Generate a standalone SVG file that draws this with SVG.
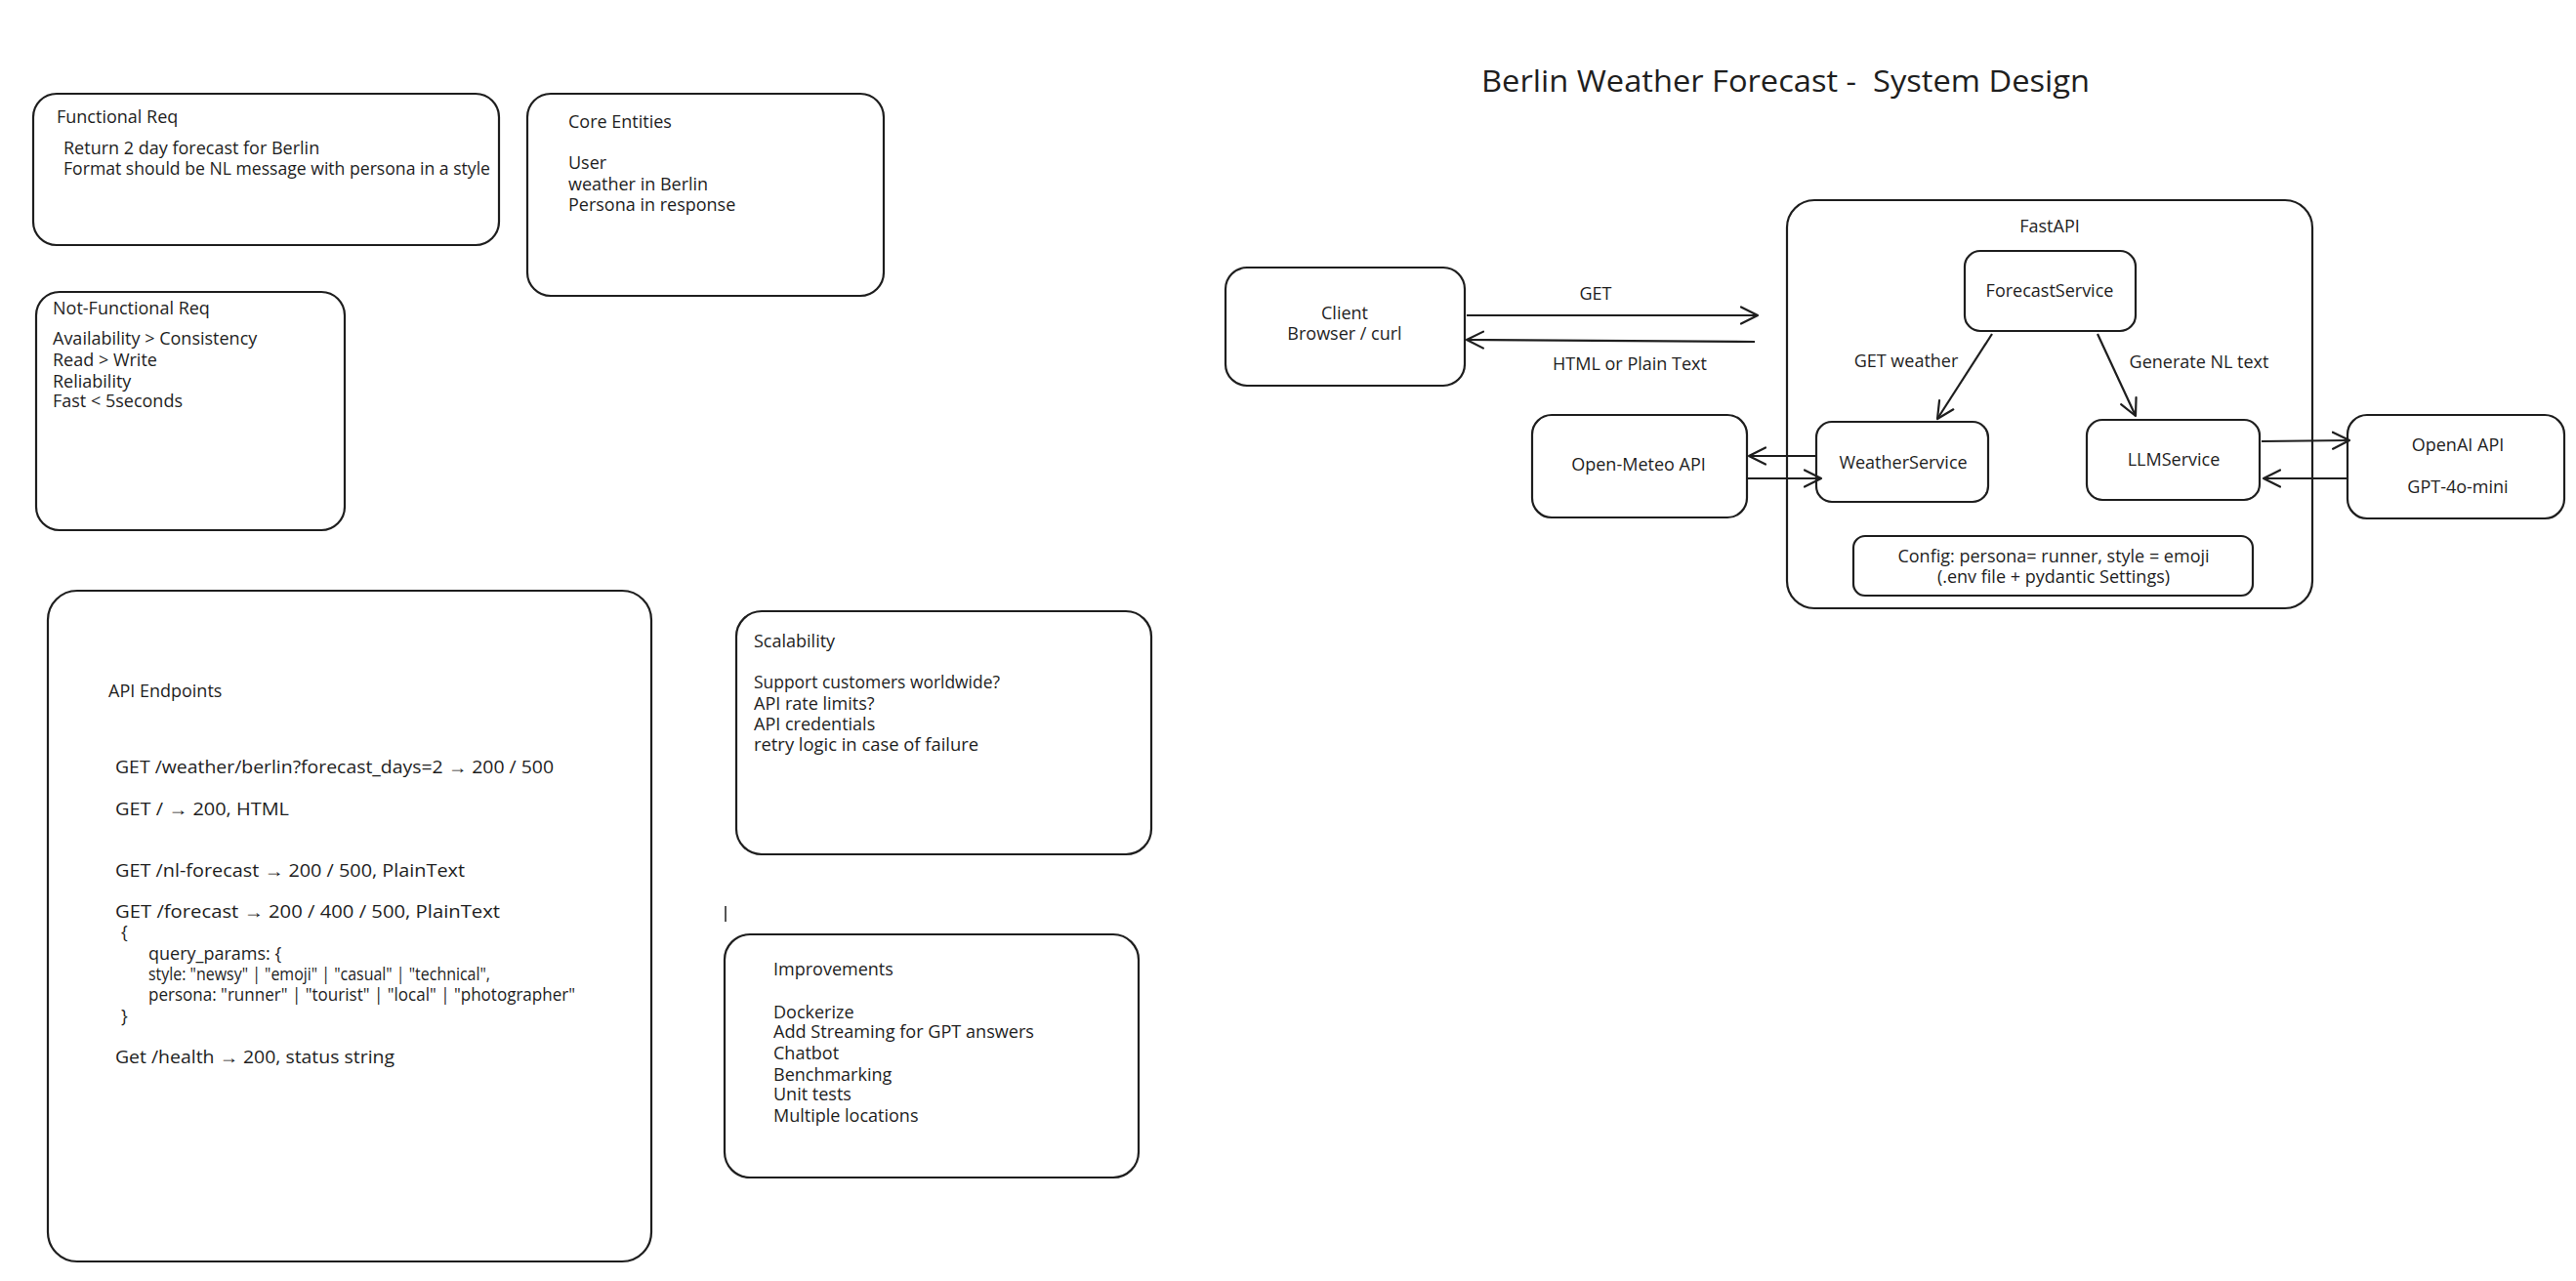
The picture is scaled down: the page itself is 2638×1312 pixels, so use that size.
<svg xmlns="http://www.w3.org/2000/svg" width="2638" height="1312" viewBox="0 0 2638 1312">
<defs>
<style>
.box{fill:#ffffff;stroke:#1e1e1e;stroke-width:2.2}
.t{font-family:"Open Sans","Liberation Sans",sans-serif;font-size:18px;fill:#1e1e1e}
.c{text-anchor:middle}
.title{font-family:"Open Sans","Liberation Sans",sans-serif;font-size:31px;fill:#1e1e1e}
.conn{fill:none;stroke:#1e1e1e;stroke-width:2.2;marker-end:url(#arr)}
</style>
<marker id="arr" markerUnits="userSpaceOnUse" markerWidth="22" markerHeight="22" refX="18" refY="10" orient="auto">
<path d="M1,1.5 L18,10 L1,18.5" fill="none" stroke="#1e1e1e" stroke-width="2.2" stroke-linecap="round" stroke-linejoin="round"/>
</marker>
</defs>
<rect width="2638" height="1312" fill="#ffffff"/>

<g id="functional-req">
<rect class="box" x="34" y="96" width="477" height="155" rx="24"/>
<text class="t" x="58" y="126">Functional Req</text>
<text class="t" x="65" y="158">Return 2 day forecast for Berlin</text>
<text class="t" x="65" y="179" textLength="437" lengthAdjust="spacingAndGlyphs">Format should be NL message with persona in a style</text>
</g>

<g id="core-entities">
<rect class="box" x="540" y="96" width="365" height="207" rx="24"/>
<text class="t" x="582" y="131">Core Entities</text>
<text class="t" x="582" y="173">User</text>
<text class="t" x="582" y="195">weather in Berlin</text>
<text class="t" x="582" y="216">Persona in response</text>
</g>

<g id="non-functional-req">
<rect class="box" x="37" y="299" width="316" height="244" rx="24"/>
<text class="t" x="54" y="322">Not-Functional Req</text>
<text class="t" x="54" y="353">Availability &gt; Consistency</text>
<text class="t" x="54" y="375">Read &gt; Write</text>
<text class="t" x="54" y="397">Reliability</text>
<text class="t" x="54" y="417">Fast &lt; 5seconds</text>
</g>

<g id="api-endpoints">
<rect class="box" x="49" y="605" width="618" height="687" rx="30"/>
<text class="t" x="111" y="714">API Endpoints</text>
<text class="t" x="118" y="792" textLength="449" lengthAdjust="spacingAndGlyphs">GET /weather/berlin?forecast_days=2 → 200 / 500</text>
<text class="t" x="118" y="835" textLength="178" lengthAdjust="spacingAndGlyphs">GET / → 200, HTML</text>
<text class="t" x="118" y="898" textLength="358" lengthAdjust="spacingAndGlyphs">GET /nl-forecast → 200 / 500, PlainText</text>
<text class="t" x="118" y="940" textLength="394" lengthAdjust="spacingAndGlyphs">GET /forecast → 200 / 400 / 500, PlainText</text>
<text class="t" x="124" y="961">{</text>
<text class="t" x="152" y="983">query_params: {</text>
<text class="t" x="152" y="1004" textLength="350" lengthAdjust="spacingAndGlyphs">style: "newsy" | "emoji" | "casual" | "technical",</text>
<text class="t" x="152" y="1025" textLength="437" lengthAdjust="spacingAndGlyphs">persona: "runner" | "tourist" | "local" | "photographer"</text>
<text class="t" x="124" y="1047">}</text>
<text class="t" x="118" y="1089" textLength="286" lengthAdjust="spacingAndGlyphs">Get /health → 200, status string</text>
</g>

<g id="scalability">
<rect class="box" x="754" y="626" width="425" height="249" rx="26"/>
<text class="t" x="772" y="663">Scalability</text>
<text class="t" x="772" y="705" textLength="252" lengthAdjust="spacingAndGlyphs">Support customers worldwide?</text>
<text class="t" x="772" y="727">API rate limits?</text>
<text class="t" x="772" y="748">API credentials</text>
<text class="t" x="772" y="769" textLength="230" lengthAdjust="spacingAndGlyphs">retry logic in case of failure</text>
</g>

<line x1="743" y1="928" x2="743" y2="944" stroke="#1e1e1e" stroke-width="1.5"/>

<g id="improvements">
<rect class="box" x="742" y="957" width="424" height="249" rx="26"/>
<text class="t" x="792" y="999">Improvements</text>
<text class="t" x="792" y="1043">Dockerize</text>
<text class="t" x="792" y="1063" textLength="267" lengthAdjust="spacingAndGlyphs">Add Streaming for GPT answers</text>
<text class="t" x="792" y="1085">Chatbot</text>
<text class="t" x="792" y="1107">Benchmarking</text>
<text class="t" x="792" y="1127">Unit tests</text>
<text class="t" x="792" y="1149">Multiple locations</text>
</g>

<g id="title">
<text class="title" x="1517" y="94" textLength="623" lengthAdjust="spacingAndGlyphs">Berlin Weather Forecast - &#160;System Design</text>
</g>

<g id="client">
<rect class="box" x="1255" y="274" width="245" height="121" rx="22"/>
<text class="t c" x="1377" y="327">Client</text>
<text class="t c" x="1377" y="348">Browser / curl</text>
</g>

<g id="fastapi">
<rect class="box" x="1830" y="205" width="538" height="418" rx="28"/>
<text class="t c" x="2099" y="238">FastAPI</text>
</g>

<g id="forecast-service">
<rect class="box" x="2012" y="257" width="175" height="82" rx="16"/>
<text class="t c" x="2099" y="304">ForecastService</text>
</g>

<g id="weather-service">
<rect class="box" x="1860" y="432" width="176" height="82" rx="16"/>
<text class="t c" x="1949" y="480">WeatherService</text>
</g>

<g id="llm-service">
<rect class="box" x="2137" y="430" width="177" height="82" rx="16"/>
<text class="t c" x="2226" y="477">LLMService</text>
</g>

<g id="config">
<rect class="box" x="1898" y="549" width="409" height="61" rx="12"/>
<text class="t c" x="2103" y="576">Config: persona= runner, style = emoji</text>
<text class="t c" x="2103" y="597">(.env file + pydantic Settings)</text>
</g>

<g id="open-meteo">
<rect class="box" x="1569" y="425" width="220" height="105" rx="20"/>
<text class="t c" x="1678" y="482">Open-Meteo API</text>
</g>

<g id="openai">
<rect class="box" x="2404" y="425" width="222" height="106" rx="20"/>
<text class="t c" x="2517" y="462">OpenAI API</text>
<text class="t c" x="2517" y="505">GPT-4o-mini</text>
</g>

<g id="connectors">
<path class="conn" d="M1502 323 L1800 323"/>
<path class="conn" d="M1797 350 L1502 348"/>
<path class="conn" d="M2040 342 L1984 429"/>
<path class="conn" d="M2148 342 L2187 426"/>
<path class="conn" d="M1859 467 L1791 467"/>
<path class="conn" d="M1790 490 L1865 490"/>
<path class="conn" d="M2316 452 L2406 451"/>
<path class="conn" d="M2404 490 L2318 490"/>
<text class="t c" x="1634" y="307">GET</text>
<text class="t c" x="1669" y="379">HTML or Plain Text</text>
<text class="t c" x="1952" y="376">GET weather</text>
<text class="t c" x="2252" y="377">Generate NL text</text>
</g>
</svg>
